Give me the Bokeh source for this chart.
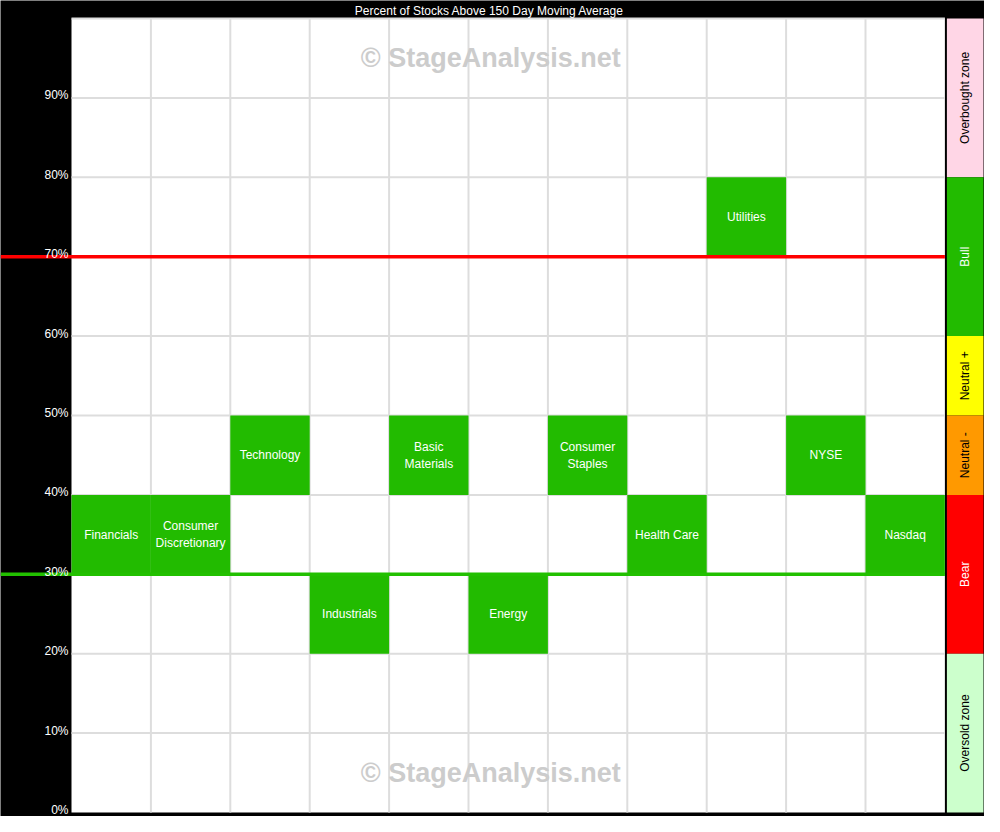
import numpy as np
from bokeh.plotting import figure
from bokeh.models import ColumnDataSource, Range1d
from bokeh.core.properties import value
from bokeh.embed import file_html
from bokeh.resources import INLINE

# ---------------- data ----------------
title_text = "Percent of Stocks Above 150 Day Moving Average"
sectors = ["Financials", "Consumer\nDiscretionary", "Technology", "Industrials",
           "Basic\nMaterials", "Energy", "Consumer\nStaples", "Health Care",
           "Utilities", "NYSE", "Nasdaq"]
bucket_low = [30, 30, 40, 20, 40, 20, 40, 30, 70, 40, 30]
bucket_size = 10

y_ticks = [0, 10, 20, 30, 40, 50, 60, 70, 80, 90]
y_tick_labels = ["0%", "10%", "20%", "30%", "40%", "50%", "60%", "70%", "80%", "90%"]

zone_names = ["Overbought zone", "Bull", "Neutral +", "Neutral -", "Bear", "Oversold zone"]
zone_low = [80, 60, 50, 40, 20, 0]
zone_high = [100, 80, 60, 50, 40, 20]
zone_colors = ["#ffd6e6", "#22bb00", "#ffff00", "#ff9900", "#ff0000", "#ccffcc"]
zone_text_colors = ["black", "white", "black", "black", "white", "black"]

threshold_levels = [70, 30]
threshold_colors = ["#ff0000", "#22c000"]

watermark_text = "\u00a9 StageAnalysis.net"

# ---------------- layout ----------------
W, H = 984, 816
CELL = 79.4          # px per column / per 10%
LEFT_PX = 71
TOP_PX = 18
BOTTOM_PX = 4
n = len(sectors)
xpx = 1.0 / CELL     # data units per px (x)
ypx = 10.0 / CELL    # data units per px (y)

x_start = -LEFT_PX * xpx
x_end = (W - LEFT_PX) * xpx
y_start = -BOTTOM_PX * ypx
y_end = 100 + TOP_PX * ypx

FONT = value("Liberation Sans")

p = figure(width=W, height=H, x_range=Range1d(x_start, x_end), y_range=Range1d(y_start, y_end),
           output_backend="svg", toolbar_location=None,
           x_axis_location=None, y_axis_location=None,
           background_fill_color="black", border_fill_color="black",
           outline_line_color=None, min_border=0)
p.grid.visible = False

# white chart area
p.quad(left=0, right=n, bottom=0, top=100, fill_color="white", line_color=None)

# grid lines (column boundaries and every 10%)
vx = list(range(1, n))
p.segment(x0=vx, x1=vx, y0=[0] * len(vx), y1=[100] * len(vx),
          line_color="#dddddd", line_width=2)
hy = y_ticks[1:] + [100]
p.segment(x0=[0] * len(hy), x1=[n] * len(hy), y0=hy, y1=hy,
          line_color="#dddddd", line_width=2)

# cells
idx = np.arange(n)
low = np.array(bucket_low)
cells = ColumnDataSource(dict(left=idx, right=idx + 1, bottom=low, top=low + bucket_size,
                              xc=idx + 0.5, yc=low + bucket_size / 2, name=sectors))
p.quad(left="left", right="right", bottom="bottom", top="top", source=cells,
       fill_color="#22bb00", line_color=None)
p.text(x="xc", y="yc", text="name", source=cells, text_color="white",
       text_font=FONT, text_font_size="12px", text_align="center", text_baseline="middle")

# watermark
p.text(x=[5.28, 5.28], y=[95, 5], text=[watermark_text, watermark_text], text_color="#cccccc",
       text_font=FONT, text_font_style="bold", text_font_size="27px",
       text_align="center", text_baseline="middle")

# threshold lines
p.segment(x0=[x_start] * len(threshold_levels), x1=[n] * len(threshold_levels),
          y0=threshold_levels, y1=threshold_levels, line_color=threshold_colors, line_width=3.5)

# right band
zl = np.array(zone_low)
zh = np.array(zone_high)
band_left = n + 2 * xpx
band_right = x_end - 1 * xpx
zones = ColumnDataSource(dict(bottom=zl, top=zh, color=zone_colors, tc=zone_text_colors,
                              name=zone_names, yc=(zl + zh) / 2))
p.quad(left=band_left, right=band_right, bottom="bottom", top="top", fill_color="color",
       line_color=None, source=zones)
p.text(x=(band_left + band_right) / 2, y="yc", text="name", text_color="tc", source=zones,
       angle=np.pi / 2, text_font=FONT, text_font_size="12px",
       text_align="center", text_baseline="middle")

# y tick labels
p.text(x=-3 * xpx, y=np.array(y_ticks) + 2.5 * ypx, text=y_tick_labels, text_color="white",
       text_font=FONT, text_font_size="12px", text_align="right", text_baseline="alphabetic")

# title
p.text(x=(497 - 79) * xpx, y=100 + 8 * ypx, text=[title_text], text_color="white",
       text_font=FONT, text_font_size="12px", text_align="center", text_baseline="middle")

open("out.html", "w").write(file_html(p, INLINE))
